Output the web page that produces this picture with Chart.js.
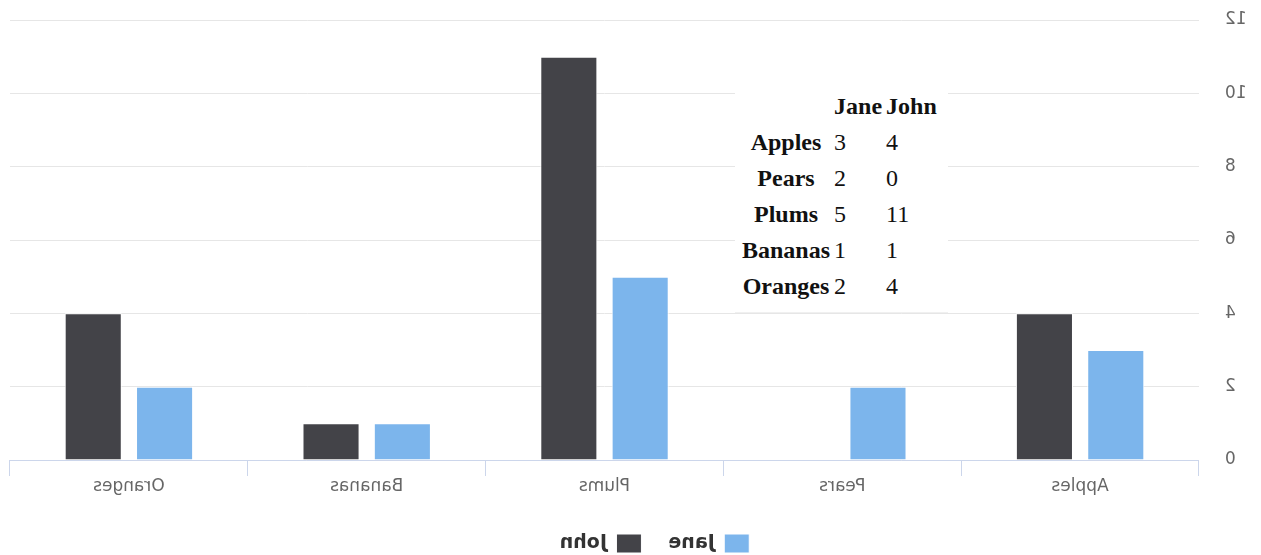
<!DOCTYPE html>
<html>
<head>
<meta charset="utf-8">
<script src="https://cdn.jsdelivr.net/npm/chart.js@4/dist/chart.umd.min.js"></script>
<style>
  html, body { margin: 0; padding: 0; background: #fff; }
  #stage { position: relative; width: 1261px; height: 555px; overflow: hidden; }
  #mirror { position: absolute; left: 0; top: 0; width: 1261px; height: 555px; transform: scaleX(-1); }
  #tableBox { position: absolute; left: 735px; top: 85px; width: 213px; height: 227px; background: #fff;
    border-bottom: 1px solid #f0f0f0; }
  #dataTable { border-collapse: separate; border-spacing: 0; margin: 3px 0 0 5px;
    font-family: "Liberation Serif", "Times New Roman", serif; font-size: 24px; color: #111; }
  #dataTable th, #dataTable td { height: 36px; line-height: 36px; padding: 0 2px; }
  #dataTable td { text-align: left; }
  #dataTable th { font-weight: bold; }
</style>
</head>
<body>
<div id="stage">
  <div id="mirror"><canvas id="chart"></canvas></div>
  <div id="tableBox"><table id="dataTable"></table></div>
</div>
<script>
const categories = ["Apples", "Pears", "Plums", "Bananas", "Oranges"];
const seriesNames = ["Jane", "John"];
const janeValues = [3, 2, 5, 1, 2];
const johnValues = [4, 0, 11, 1, 4];
const yTicks = [0, 2, 4, 6, 8, 10, 12];

const JANE_COLOR = "#7cb5ec";
const JOHN_COLOR = "#434348";
const LEGEND_SHIFT_X = -19;
const LEGEND_SHIFT_Y = 7;

// Build HTML data table from the arrays
(function buildTable() {
  const t = document.getElementById("dataTable");
  const head = document.createElement("tr");
  head.appendChild(document.createElement("th"));
  seriesNames.forEach(n => { const th = document.createElement("th"); th.textContent = n; head.appendChild(th); });
  t.appendChild(head);
  categories.forEach((c, i) => {
    const tr = document.createElement("tr");
    const th = document.createElement("th"); th.textContent = c; tr.appendChild(th);
    [janeValues[i], johnValues[i]].forEach(v => { const td = document.createElement("td"); td.textContent = v; tr.appendChild(td); });
    t.appendChild(tr);
  });
})();

const legendShiftPlugin = {
  id: "legendShift",
  afterLayout(chart) {
    const l = chart.legend;
    if (l) {
      l.left += LEGEND_SHIFT_X; l.right += LEGEND_SHIFT_X;
      l.top += LEGEND_SHIFT_Y; l.bottom += LEGEND_SHIFT_Y;
    }
  }
};

new Chart(document.getElementById("chart"), {
  type: "bar",
  data: {
    labels: categories,
    datasets: [
      { label: seriesNames[0], data: janeValues, backgroundColor: JANE_COLOR, borderColor: "#ffffff", borderWidth: 1,
        categoryPercentage: 0.6, barPercentage: 0.8 },
      { label: seriesNames[1], data: johnValues, backgroundColor: JOHN_COLOR, borderColor: "#ffffff", borderWidth: 1,
        categoryPercentage: 0.6, barPercentage: 0.8 }
    ]
  },
  options: {
    responsive: true,
    maintainAspectRatio: false,
    animation: false,
    layout: { padding: { left: 0, right: 10, top: 20, bottom: -1 } },
    plugins: {
      tooltip: { enabled: false },
      legend: {
        position: "bottom",
        labels: {
          font: { family: "DejaVu Sans", size: 19, weight: "bold" },
          color: "#333333",
          boxWidth: 25,
          boxHeight: 19,
          padding: 27
        }
      }
    },
    scales: {
      x: {
        offset: true,
        grid: { offset: true, drawOnChartArea: false, drawTicks: true, tickLength: 16, color: "#ccd6eb", lineWidth: 1 },
        border: { display: true, color: "#ccd6eb", width: 1 },
        ticks: { font: { family: "DejaVu Sans", size: 17 }, color: "#666666", padding: 0, maxRotation: 0 },
        afterFit(scale) { scale.height = 40; }
      },
      y: {
        min: 0,
        max: 12,
        afterBuildTicks(scale) { scale.ticks = yTicks.map(v => ({ value: v })); },
        grid: { color: "#e6e6e6", drawTicks: false, lineWidth: 1 },
        border: { display: false },
        ticks: { font: { family: "DejaVu Sans", size: 17 }, color: "#666666", padding: 26 },
        afterFit(scale) { scale.width = 62; scale.paddingTop = 0; scale.paddingBottom = 0; }
      }
    }
  },
  plugins: [legendShiftPlugin]
});
</script>
</body>
</html>
